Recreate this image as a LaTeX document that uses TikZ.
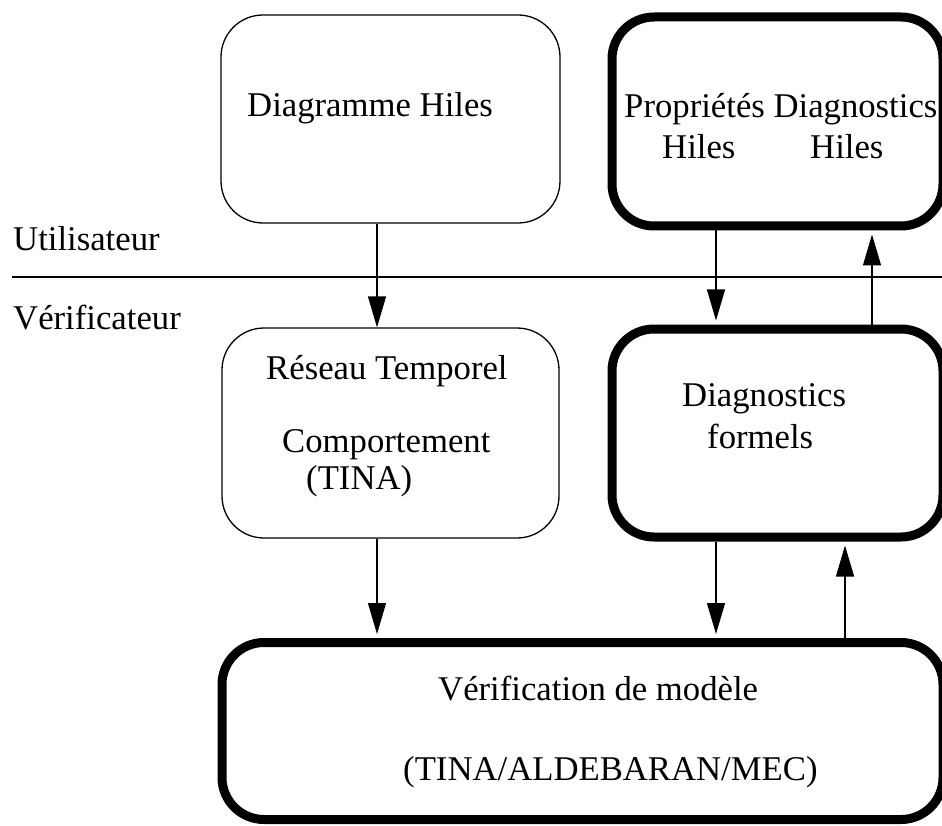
\documentclass[tikz,border=0pt]{standalone}
\usepackage{fontspec}
\setmainfont{Liberation Serif}
\usetikzlibrary{arrows.meta}
\begin{document}
\begin{tikzpicture}[x=1pt,y=-1pt,
  thinbox/.style={draw=black,line width=1.3pt,rounded corners=42pt,inner sep=0pt},
  thickbox/.style={draw=black,line width=9pt,rounded corners=42pt,inner sep=0pt},
  lbl/.style={inner sep=0pt,anchor=base west,font=\fontsize{34.7}{34.7}\selectfont},
  arr/.style={line width=1.3pt,-{Triangle[length=31pt,width=18pt]}},
  arrk/.style={arr,shorten >=4pt}]
\useasboundingbox (0,0) rectangle (942,826);
% boxes
\node[thinbox,minimum width=339pt,minimum height=208pt] (A) at (390.5,119) {};
\node[thickbox,minimum width=331pt,minimum height=209pt] (B) at (777.5,121.5) {};
\node[thinbox,minimum width=337pt,minimum height=210pt] (C) at (390.5,433) {};
\node[thickbox,minimum width=331pt,minimum height=208pt] (D) at (777.5,433) {};
\node[thickbox,minimum width=721pt,minimum height=177pt] (E) at (582.5,731) {};
% separator
\coordinate (L1) at (12,277);
\coordinate (L2) at (942,277);
\draw[line width=1.3pt] (L1) -- (L2);
% labels
\node[lbl] (tA) at (247,117) {Diagramme Hiles};
\node[lbl] (tB1) at (624,118) {Propriétés Diagnostics};
\node[lbl] (tB2) at (662,159) {Hiles};
\node[lbl] (tB3) at (810,159) {Hiles};
\node[lbl] (tU) at (13,251) {Utilisateur};
\node[lbl] (tV) at (13,329) {Vérificateur};
\node[lbl] (tC1) at (266,379) {Réseau Temporel};
\node[lbl] (tC2) at (282,452) {Comportement};
\node[lbl] (tC3) at (306,489) {(TINA)};
\node[lbl] (tD1) at (682,406) {Diagnostics};
\node[lbl] (tD2) at (707,448) {formels};
\node[lbl] (tE1) at (438,700) {Vérification de modèle};
\node[lbl] (tE2) at (403,780) {(TINA/ALDEBARAN/MEC)};
% x positions of connectors
\coordinate (x1) at (377,0);
\coordinate (x2) at (716,0);
\coordinate (x3) at (872,0);
\coordinate (x4) at (845,0);
% connectors
\draw[arr] (A.south -| x1) -- (C.north -| x1);
\draw[arrk] (B.south -| x2) -- (D.north -| x2);
\draw[arrk] (D.north -| x3) -- (B.south -| x3);
\draw[arrk] (C.south -| x1) -- (E.north -| x1);
\draw[arrk] (D.south -| x2) -- (E.north -| x2);
\draw[arrk] (E.north -| x4) -- (D.south -| x4);
\end{tikzpicture}
\end{document}
